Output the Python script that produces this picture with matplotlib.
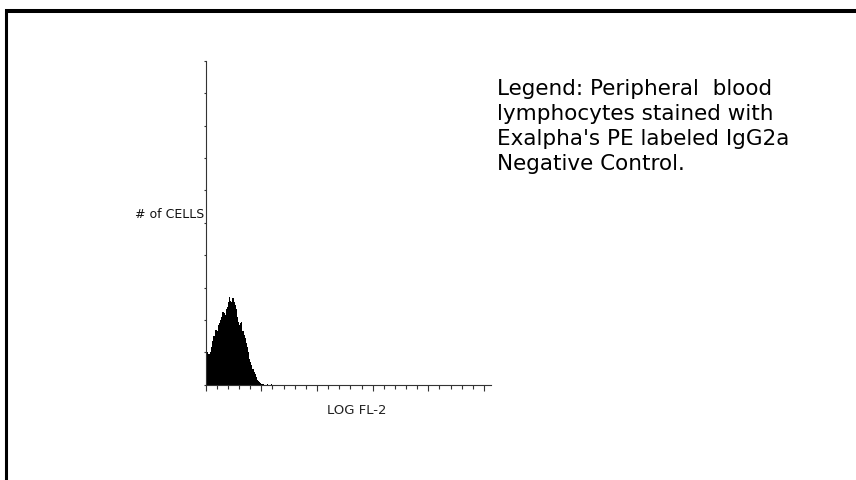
import matplotlib
matplotlib.use("Agg")
import matplotlib.pyplot as plt
from matplotlib.lines import Line2D
import numpy as np

# Histogram data: channel (LOG FL-2) and number of cells per channel
channels = list(range(0, 61))
counts = [10.5, 10, 9.5, 9.5, 10, 11.5, 13.5, 15, 17, 17,
          16.5, 18.5, 19, 20, 21, 22.5, 22, 21.5, 23.5, 24,
          25.5, 27, 26, 25.5, 26.8, 25.5, 24.5, 23.5, 21, 19.5,
          18.5, 19, 19.3, 16.5, 15.5, 14.5, 12.8, 11.5, 10, 8,
          7, 6, 5, 4, 3.2, 2.5, 1.6, 1.2, 0.9, 0.5,
          0.3, 0.1, 0, 0, 0, 0.3, 0, 0, 0, 0.3, 0]

x_label = "LOG FL-2"
y_label = "# of CELLS"
legend_lines = ["Legend: Peripheral  blood",
                "lymphocytes stained with",
                "Exalpha's PE labeled IgG2a",
                "Negative Control."]

W, H = 856, 481
fig = plt.figure(figsize=(W / 100, H / 100), dpi=100)
fig.patch.set_facecolor("white")

ax = fig.add_axes([205.7 / W, 1 - 385.7 / H, (490.6 - 205.7) / W, (385.7 - 62) / H])
ax.fill_between(channels, counts, step="post", color="black", linewidth=0)
ax.set_xlim(0, 256)
ax.set_ylim(0, 100)
for s in ("top", "right"):
    ax.spines[s].set_visible(False)
for s in ("left", "bottom"):
    ax.spines[s].set_color("#333333")
    ax.spines[s].set_linewidth(0.8)
ax.set_xticks(np.arange(0, 251, 50))
ax.set_xticks(np.arange(0, 251, 10), minor=True)
ax.set_yticks(np.arange(0, 101, 10))
ax.tick_params(axis="x", which="major", length=4.5, width=0.8, color="#333333",
               direction="out", labelbottom=False)
ax.tick_params(axis="x", which="minor", length=2.8, width=0.8, color="#333333",
               direction="out")
ax.tick_params(axis="y", which="major", length=1.6, width=0.8, color="#333333",
               direction="out", labelleft=False)

fig.text(357 / W, 1 - 410 / H, x_label, ha="center", va="center",
         fontsize=9.5, family=["Liberation Sans Narrow", "DejaVu Sans"], color="#222222")
fig.text(204 / W, 1 - 214 / H, y_label, ha="right", va="center",
         fontsize=9, family=["Liberation Sans Narrow", "DejaVu Sans"], color="#111111",
         bbox=dict(facecolor="white", edgecolor="none", pad=1.0))

y0 = 89
for i, line in enumerate(legend_lines):
    fig.text(497 / W, 1 - (y0 + i * 25) / H, line, ha="left", va="center",
             fontsize=15.5, family="DejaVu Sans", color="black")

# Frame lines (top and left)
fig.add_artist(Line2D([5 / W, 1.0], [1 - 12 / H, 1 - 12 / H], color="black",
                      linewidth=2.9, solid_capstyle="butt", transform=fig.transFigure))
fig.add_artist(Line2D([6.3 / W, 6.3 / W], [1 - 10 / H, 0], color="black",
                      linewidth=2.2, solid_capstyle="butt", transform=fig.transFigure))

fig.savefig("out.png", dpi=100, facecolor="white")
